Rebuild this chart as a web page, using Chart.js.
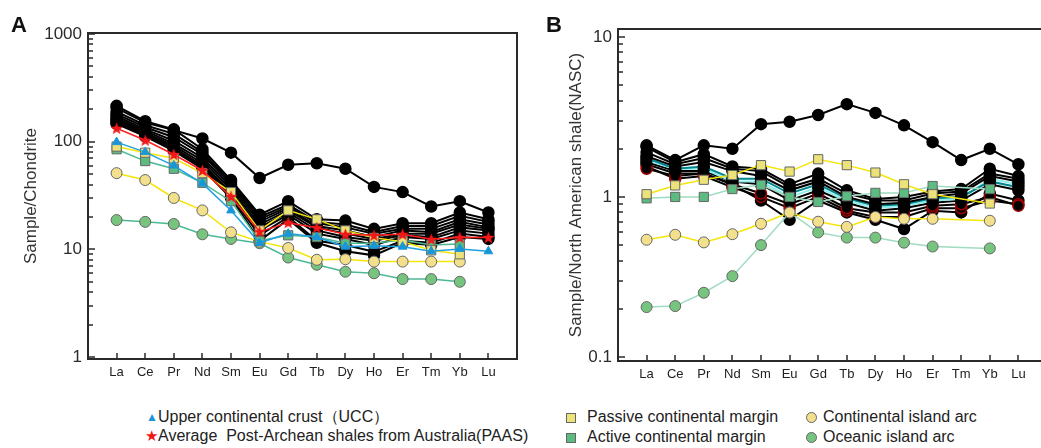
<!DOCTYPE html>
<html>
<head>
<meta charset="utf-8">
<script src="https://cdn.jsdelivr.net/npm/chart.js@4.4.1/dist/chart.umd.min.js"></script>
<style>
  html, body { margin: 0; padding: 0; background: #fff; }
  body { width: 1041px; height: 448px; overflow: hidden; position: relative;
         font-family: "Liberation Sans", Arial, sans-serif; color: #222; }
  canvas { position: absolute; top: 0; }
  #chartA { left: 0; }
  #chartB { left: 530px; }
  .tag { position: absolute; top: 14px; font-size: 22px; line-height: 22px; font-weight: bold; color: #111; }
  .lg { position: absolute; font-size: 16px; line-height: 20px; white-space: pre; }
  .mk { position: absolute; box-sizing: border-box; border: 1px solid #666; }
  .sq { width: 10px; height: 10px; }
  .dot { width: 11px; height: 11px; border-radius: 50%; }
</style>
</head>
<body>
<canvas id="chartA" width="530" height="400"></canvas>
<canvas id="chartB" width="530" height="400"></canvas>
<div class="tag" style="left:11px">A</div>
<div class="tag" style="left:546px">B</div>

<!-- legend, left block -->
<div class="lg" style="left:146px;top:407px;color:#1a96d8;font-size:12px">▲</div>
<div class="lg" style="left:158px;top:407px">Upper continental crust（UCC）</div>
<div class="lg" style="left:145px;top:426px;color:#f01818;font-size:15px">★</div>
<div class="lg" style="left:158px;top:426px">Average  Post-Archean shales from Australia(PAAS)</div>

<!-- legend, right block -->
<div class="mk sq" style="left:566px;top:413px;background:#ece27a"></div>
<div class="lg" style="left:587px;top:407px">Passive continental margin</div>
<div class="mk dot" style="left:806px;top:412px;background:#f2e08c"></div>
<div class="lg" style="left:823px;top:407px">Continental island arc</div>
<div class="mk sq" style="left:566px;top:433px;background:#5cbb80"></div>
<div class="lg" style="left:587px;top:427px">Active continental margin</div>
<div class="mk dot" style="left:806px;top:432px;background:#76c47e"></div>
<div class="lg" style="left:823px;top:427px">Oceanic island arc</div>

<script>
// REE order on the x axis
const ELEMENTS = ['La', 'Ce', 'Pr', 'Nd', 'Sm', 'Eu', 'Gd', 'Tb', 'Dy', 'Ho', 'Er', 'Tm', 'Yb', 'Lu'];

// decade labels on the log axes
const Y_LABELS_A = [1, 10, 100, 1000];
const Y_LABELS_B = [0.1, 1, 10];

// --- A: chondrite-normalised ---
const UCC_A     = [99, 80, 60, 41, 23, 11.5, 14, 13, 10.6, 10.8, 10.6, 9.6, 10.1, 9.6];
const PAAS_A    = [133, 103, 76, 54, 31, 14.6, 17.7, 15.9, 13.8, 13.5, 13.8, 12.4, 12.9, 12.9];
const PASSIVE_A = [90, 79, 70, 51, 34, 15, 23, 19, 15, 12.8, 11.8, 9.8, 9.0, null];
const ACTIVE_A  = [85, 66, 56, 41.5, 28, 12, 13.5, 13, 11.4, 11.4, 12.2, 11, 11.2, null];
const CIA_A     = [51, 44, 30, 23, 14.4, 11.8, 10.3, 8, 8.1, 7.7, 7.7, 7.7, 7.7, null];
const OIA_A     = [18.7, 18, 17.2, 13.8, 12.5, 11.4, 8.4, 7.2, 6.2, 6.0, 5.3, 5.3, 5.0, null];

const SAMPLES_A = [
  [205, 150, 128, 107, 79, 46, 61, 63, 56, 38, 34, 25, 28, 22],
  [215, 155, 130, 85, 44, 21, 28, 19, 18.5, 15.5, 17.5, 17.5, 22, 19],
  [190, 142, 118, 80, 42, 20, 26, 18, 17, 14.5, 16.5, 16.5, 20.5, 18],
  [180, 136, 110, 76, 40, 19, 25, 17.5, 16, 14, 15.5, 15.5, 19, 17],
  [172, 130, 102, 71, 38, 18, 24, 16.5, 15, 13, 15, 14.5, 18, 16],
  [165, 126, 96, 67, 36, 17, 23, 16, 14, 12.5, 14, 14, 17, 15.5],
  [160, 121, 92, 63, 34, 16, 22, 15, 13, 12, 13.5, 13, 16, 15],
  [155, 118, 88, 60, 33, 15, 21, 14, 12.5, 11, 13, 12.5, 15, 14],
  [150, 115, 85, 58, 31, 13.5, 20, 12, 11, 9.5, 12, 11.5, 14, 13],
  [146, 112, 82, 56, 30, 12, 19, 11.5, 9.6, 8.8, 11.5, 11, 13, 12.5]
];

// --- B: NASC-normalised ---
const PASSIVE_B = [1.04, 1.18, 1.28, 1.37, 1.58, 1.44, 1.72, 1.58, 1.42, 1.2, 1.04, null, 0.91, null];
const ACTIVE_B  = [0.98, 1.0, 1.0, 1.12, 1.19, 1.0, 0.93, 1.01, 1.06, 1.06, 1.17, null, 1.12, null];
const CIA_B     = [0.54, 0.58, 0.52, 0.585, 0.68, 0.8, 0.7, 0.65, 0.75, 0.73, 0.73, null, 0.71, null];
const OIA_B     = [0.205, 0.208, 0.252, 0.32, 0.5, 0.8, 0.6, 0.557, 0.557, 0.518, 0.49, null, 0.477, null];

const SAMPLES_B = [
  [2.1, 1.7, 2.1, 2.0, 2.85, 2.95, 3.25, 3.8, 3.35, 2.8, 2.2, 1.7, 2.0, 1.6],
  [2.05, 1.65, 1.85, 1.55, 1.5, 1.2, 1.4, 1.1, 0.97, 1.0, 1.08, 1.12, 1.5, 1.35],
  [1.9, 1.6, 1.75, 1.5, 1.45, 1.15, 1.3, 1.05, 0.95, 0.95, 1.05, 1.08, 1.4, 1.3],
  [1.8, 1.55, 1.65, 1.45, 1.35, 1.1, 1.25, 1.0, 0.9, 0.92, 1.0, 1.05, 1.35, 1.25],
  [1.75, 1.5, 1.55, 1.3, 1.3, 1.05, 1.2, 0.98, 0.88, 0.9, 0.98, 1.0, 1.25, 1.15],
  [1.7, 1.5, 1.5, 1.25, 1.25, 1.0, 1.15, 0.95, 0.85, 0.88, 0.95, 0.97, 1.3, 1.2],
  [1.65, 1.45, 1.45, 1.25, 1.2, 0.95, 1.1, 0.92, 0.82, 0.85, 0.92, 0.95, 1.2, 1.1],
  [1.5, 1.35, 1.4, 1.2, 1.05, 0.9, 1.05, 0.85, 0.8, 0.8, 0.88, 0.9, 1.0, 0.88],
  [1.55, 1.3, 1.35, 1.15, 1.0, 0.85, 1.0, 0.82, 0.75, 0.75, 0.85, 0.85, 0.95, 0.9],
  [1.6, 1.4, 1.4, 1.2, 0.95, 0.72, 0.95, 0.8, 0.72, 0.63, 0.82, 0.8, 1.05, 0.95]
];
// line colour / marker rim per B sample (teal, cyan and red-rimmed ones)
const SAMPLE_LINE_B = ['#000', '#000', '#000', '#000', '#00868b', '#8eeeee', '#000', '#000', '#000', '#000'];
const SAMPLE_RIM_B  = ['#000', '#000', '#000', '#000', '#000', '#000', '#000', '#a00000', '#a00000', '#000'];

Chart.defaults.font.family = '"Liberation Sans", Arial, sans-serif';
Chart.defaults.color = '#222';

// filled five-point star used for PAAS
function makeStar(size, color) {
  const c = document.createElement('canvas');
  c.width = c.height = size;
  const g = c.getContext('2d');
  const r = size / 2, ri = r * 0.42;
  g.beginPath();
  for (let i = 0; i < 10; i++) {
    const rad = i % 2 ? ri : r;
    const a = -Math.PI / 2 + i * Math.PI / 5;
    g.lineTo(r + rad * Math.cos(a), r + 0.5 + rad * Math.sin(a));
  }
  g.closePath();
  g.fillStyle = color;
  g.fill();
  return c;
}
const starImg = makeStar(13, '#f01818');

function series(values, style) {
  return Object.assign({
    data: values.map((v, i) => ({ x: i, y: v })),
    spanGaps: true,
    tension: 0,
    borderWidth: 1.5,
    pointBorderWidth: 1,
    pointBorderColor: '#666'
  }, style);
}

const yellowLine = '#f5e50a';
const styles = {
  ucc:     { borderColor: '#1fa0e0', pointStyle: 'triangle', pointRadius: 5, pointBackgroundColor: '#1a96d8', pointBorderColor: '#1a96d8' },
  paas:    { borderColor: '#ff2020', pointStyle: starImg },
  passive: { borderColor: yellowLine, pointStyle: 'rect', pointRadius: 6.5, pointBackgroundColor: '#ece27a' },
  active:  { borderColor: '#4db894', pointStyle: 'rect', pointRadius: 6.5, pointBackgroundColor: '#5cbb80' },
  cia:     { borderColor: yellowLine, pointStyle: 'circle', pointRadius: 5.5, pointBackgroundColor: '#f2e08c' },
  oia:     { borderColor: '#4db894', pointStyle: 'circle', pointRadius: 5.5, pointBackgroundColor: '#76c47e' }
};

function blackSeries(values, line, rim) {
  return series(values, {
    borderColor: line || '#000', borderWidth: 2,
    pointRadius: 5.5, pointBackgroundColor: '#000',
    pointBorderColor: rim || '#000', pointBorderWidth: 1.5
  });
}

// frame round the plot plus inward tick marks
const axisFrame = {
  id: 'axisFrame',
  beforeDatasetsDraw(chart) {
    const { ctx, chartArea: a, scales: { x, y } } = chart;
    ctx.save();
    ctx.strokeStyle = '#2a2a2a';
    ctx.lineWidth = 2;
    ctx.strokeRect(a.left, a.top, a.right - a.left, a.bottom - a.top);
    ctx.lineWidth = 1.5;
    ctx.beginPath();
    x.ticks.forEach(t => {
      const px = Math.round(x.getPixelForValue(t.value));
      ctx.moveTo(px, a.bottom);
      ctx.lineTo(px, a.bottom - 6);
    });
    y.ticks.forEach(t => {
      const py = Math.round(y.getPixelForValue(t.value));
      ctx.moveTo(a.left, py);
      ctx.lineTo(a.left + (t.major ? 7 : 5), py);
    });
    ctx.stroke();
    ctx.restore();
  }
};

function logTicks(decades, min, max) {
  const out = [];
  decades.forEach(d => {
    for (let k = 1; k <= 9; k++) {
      const v = k * d;
      if (v >= min && v <= max) out.push({ value: v, major: k === 1 });
    }
  });
  return out;
}

function makePanel(id, cfg) {
  new Chart(document.getElementById(id), {
    type: 'line',
    data: { datasets: cfg.datasets },
    options: {
      responsive: false,
      animation: false,
      events: [],
      layout: { padding: { top: cfg.top, right: 13, bottom: 0, left: 0 } },
      plugins: { legend: { display: false }, tooltip: { enabled: false } },
      scales: {
        x: {
          type: 'linear', min: -1, max: ELEMENTS.length,
          afterBuildTicks: s => { s.ticks = ELEMENTS.map((_, i) => ({ value: i })); },
          afterFit: s => { s.height = 400 - cfg.bottom; },
          grid: { display: false, drawTicks: false },
          border: { display: false },
          ticks: {
            autoSkip: false, maxRotation: 0, padding: 6,
            font: { size: 13 }, color: '#222',
            callback: v => ELEMENTS[v] ?? ''
          }
        },
        y: {
          type: 'logarithmic', min: cfg.min, max: cfg.max,
          afterBuildTicks: s => { s.ticks = logTicks(cfg.labels, cfg.min, cfg.max); },
          afterFit: s => { s.width = 88; },
          grid: { display: false, drawTicks: false },
          border: { display: false },
          ticks: {
            autoSkip: false, padding: 6,
            font: { size: 17 }, color: '#2b2b2b',
            callback: v => cfg.labels.includes(v) ? String(v) : ''
          },
          title: {
            display: true, text: cfg.title,
            font: { size: 17 }, color: '#333',
            padding: { top: cfg.titlePad, bottom: 0 }
          }
        }
      }
    },
    plugins: [axisFrame]
  });
}

makePanel('chartA', {
  title: 'Sample/Chondrite', titlePad: 21,
  min: 0.96, max: 1020, top: 33, bottom: 359,
  labels: Y_LABELS_A,
  datasets: [
    series(PAAS_A, styles.paas),
    series(UCC_A, styles.ucc),
    series(PASSIVE_A, styles.passive),
    series(ACTIVE_A, styles.active),
    series(CIA_A, styles.cia),
    series(OIA_A, styles.oia),
    ...SAMPLES_A.map(s => blackSeries(s))
  ]
});

const lightGreen = '#9fdcc0';
makePanel('chartB', {
  title: 'Sample/North American shale(NASC)', titlePad: 36,
  min: 0.0944, max: 11.2, top: 29, bottom: 361,
  labels: Y_LABELS_B,
  datasets: [
    series(PASSIVE_B, styles.passive),
    series(ACTIVE_B, Object.assign({}, styles.active, { borderColor: lightGreen })),
    series(CIA_B, styles.cia),
    series(OIA_B, Object.assign({}, styles.oia, { borderColor: lightGreen })),
    ...SAMPLES_B.map((s, i) => blackSeries(s, SAMPLE_LINE_B[i], SAMPLE_RIM_B[i]))
  ]
});
</script>
</body>
</html>
